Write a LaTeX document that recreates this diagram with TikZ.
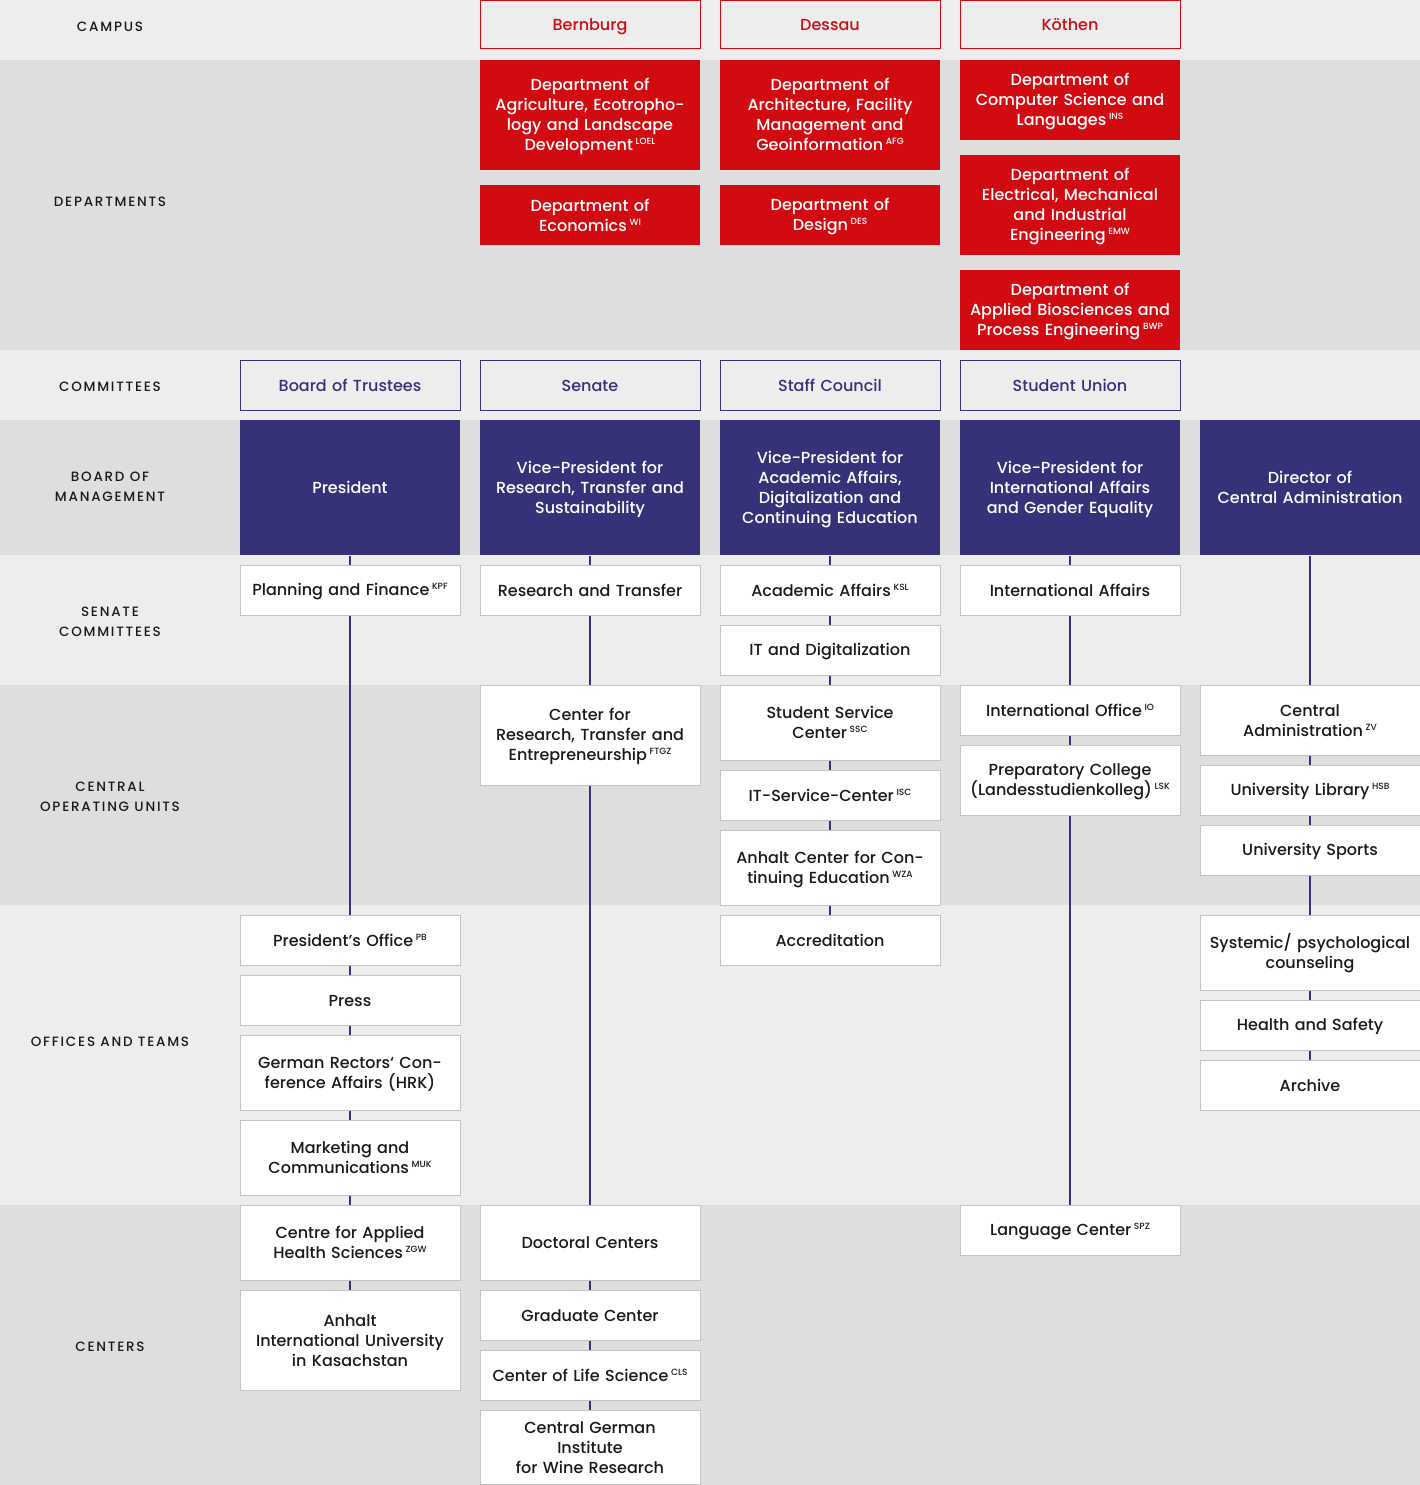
\documentclass[tikz,border=0pt]{standalone}
\usepackage{fontspec}
\setmainfont{Poppins}[UprightFont=* Medium]
\newfontfamily\lblfont{Poppins}[UprightFont=* Medium, LetterSpace=13]
\definecolor{bandL}{HTML}{EDEDED}
\definecolor{bandD}{HTML}{DEDEDE}
\definecolor{uniRed}{HTML}{D20B12}
\definecolor{navy}{HTML}{36327A}
\definecolor{boxLine}{HTML}{C4C4C4}
\definecolor{ink}{HTML}{1A1A1A}
\newcommand{\abbr}[1]{\,\raisebox{6pt}{\fontsize{9}{9}\selectfont #1}}
\newcommand{\topstrut}{\rule[-3pt]{0pt}{19pt}}
\newcommand{\botstrut}{\rule[-4pt]{0pt}{8pt}}
\tikzset{
  base/.style={font=\fontsize{16}{20}\selectfont, minimum width=220pt, text width=212pt, align=center, inner sep=0pt, line width=1pt,
    execute at begin node=\topstrut, execute at end node=\botstrut},
  wbox/.style={base, draw=boxLine, fill=white, text=ink},
  redbox/.style={base, fill=uniRed, text=white},
  campbox/.style={base, draw=uniRed, fill=bandL, text=uniRed},
  combox/.style={base, draw=navy, fill=bandL, text=navy},
  bombox/.style={base, fill=navy, text=white},
  lbl/.style={font=\lblfont\fontsize{13.5}{20}\selectfont, align=center, text=ink},
  conn/.style={draw=navy, line width=1.5pt}
}
\begin{document}
\begin{tikzpicture}[x=1pt,y=-1pt]
\useasboundingbox (0,0) rectangle (1420,1485);
% bands
\fill[bandL] (0,0) rectangle (1420,60);
\fill[bandD] (0,60) rectangle (1420,350);
\fill[bandL] (0,350) rectangle (1420,420);
\fill[bandD] (0,420) rectangle (1420,555);
\fill[bandL] (0,555) rectangle (1420,685);
\fill[bandD] (0,685) rectangle (1420,905);
\fill[bandL] (0,905) rectangle (1420,1205);
\fill[bandD] (0,1205) rectangle (1420,1485);
% band labels
\node[lbl] (l1) at (110,27) {CAMPUS};
\node[lbl] (l2) at (110,202) {DEPARTMENTS};
\node[lbl] (l3) at (110,387) {COMMITTEES};
\node[lbl] (l4) at (110,487) {BOARD OF\\MANAGEMENT};
\node[lbl] (l5) at (110,622) {SENATE\\COMMITTEES};
\node[lbl] (l6) at (110,797) {CENTRAL\\OPERATING UNITS};
\node[lbl] (l7) at (110,1042) {OFFICES AND TEAMS};
\node[lbl] (l8) at (110,1347) {CENTERS};
% campus
\node[campbox, minimum height=48pt] (bern) at (590,25) {Bernburg};
\node[campbox, minimum height=48pt] (dess) at (830,25) {Dessau};
\node[campbox, minimum height=48pt] (koth) at (1070,25) {Köthen};
% departments
\node[redbox, minimum height=110pt] (loel) at (590,115) {Department of\\Agriculture, Ecotropho-\\logy and Landscape\\Development\abbr{LOEL}};
\node[redbox, minimum height=60pt] (wi) at (590,215) {Department of\\Economics\abbr{WI}};
\node[redbox, minimum height=110pt] (afg) at (830,115) {Department of\\Architecture, Facility\\Management and\\Geoinformation\abbr{AFG}};
\node[redbox, minimum height=60pt] (des) at (830,215) {Department of\\Design\abbr{DES}};
\node[redbox, minimum height=80pt] (ins) at (1070,100) {Department of\\Computer Science and\\Languages\abbr{INS}};
\node[redbox, minimum height=100pt] (emw) at (1070,205) {Department of\\Electrical, Mechanical\\and Industrial\\Engineering\abbr{EMW}};
\node[redbox, minimum height=80pt] (bwp) at (1070,310) {Department of\\Applied Biosciences and\\Process Engineering\abbr{BWP}};
% committees
\node[combox, minimum height=50pt] (bot) at (350,385) {Board of Trustees};
\node[combox, minimum height=50pt] (sen) at (590,385) {Senate};
\node[combox, minimum height=50pt] (staff) at (830,385) {Staff Council};
\node[combox, minimum height=50pt] (stu) at (1070,385) {Student Union};
% board of management
\node[bombox, minimum height=135pt] (pres) at (350,487.5) {President};
\node[bombox, minimum height=135pt] (vpr) at (590,487.5) {Vice-President for\\Research, Transfer and\\Sustainability};
\node[bombox, minimum height=135pt] (vpa) at (830,487.5) {Vice-President for\\Academic Affairs,\\Digitalization and\\Continuing Education};
\node[bombox, minimum height=135pt] (vpi) at (1070,487.5) {Vice-President for\\International Affairs\\and Gender Equality};
\node[bombox, minimum height=135pt] (dir) at (1310,487.5) {Director of\\Central Administration};
% senate committees
\node[wbox, minimum height=50pt] (kpf) at (350,590) {Planning and Finance\abbr{KPF}};
\node[wbox, minimum height=50pt] (rt) at (590,590) {Research and Transfer};
\node[wbox, minimum height=50pt] (ksl) at (830,590) {Academic Affairs\abbr{KSL}};
\node[wbox, minimum height=50pt] (itd) at (830,650) {IT and Digitalization};
\node[wbox, minimum height=50pt] (ia) at (1070,590) {International Affairs};
% central operating units
\node[wbox, minimum height=100pt] (ftgz) at (590,735) {Center for\\Research, Transfer and\\Entrepreneurship\abbr{FTGZ}};
\node[wbox, minimum height=75pt] (ssc) at (830,722.5) {Student Service\\Center\abbr{SSC}};
\node[wbox, minimum height=50pt] (isc) at (830,795) {IT-Service-Center\abbr{ISC}};
\node[wbox, minimum height=75pt] (wza) at (830,867.5) {Anhalt Center for Con-\\tinuing Education\abbr{WZA}};
\node[wbox, minimum height=50pt] (io) at (1070,710) {International Office\abbr{IO}};
\node[wbox, minimum height=70pt] (lsk) at (1070,780) {Preparatory College\\(Landesstudienkolleg)\abbr{LSK}};
\node[wbox, minimum height=70pt] (zv) at (1310,720) {Central\\Administration\abbr{ZV}};
\node[wbox, minimum height=50pt] (hsb) at (1310,790) {University Library\abbr{HSB}};
\node[wbox, minimum height=50pt] (sport) at (1310,850) {University Sports};
% offices and teams
\node[wbox, minimum height=50pt] (pb) at (350,940) {President's Office\abbr{PB}};
\node[wbox, minimum height=50pt] (press) at (350,1000) {Press};
\node[wbox, minimum height=75pt] (hrk) at (350,1072.5) {German Rectors‘ Con-\\ference Affairs (HRK)};
\node[wbox, minimum height=75pt] (muk) at (350,1157.5) {Marketing and\\Communications\abbr{MUK}};
\node[wbox, minimum height=50pt] (accr) at (830,940) {Accreditation};
\node[wbox, minimum height=75pt] (sys) at (1310,952.5) {Systemic/ psychological\\counseling};
\node[wbox, minimum height=50pt] (hs) at (1310,1025) {Health and Safety};
\node[wbox, minimum height=50pt] (arch) at (1310,1085) {Archive};
% centers
\node[wbox, minimum height=75pt] (zgw) at (350,1242.5) {Centre for Applied\\Health Sciences\abbr{ZGW}};
\node[wbox, minimum height=100pt] (aiu) at (350,1340) {Anhalt\\International University\\in Kasachstan};
\node[wbox, minimum height=75pt] (doc) at (590,1242.5) {Doctoral Centers};
\node[wbox, minimum height=50pt] (grad) at (590,1315) {Graduate Center};
\node[wbox, minimum height=50pt] (cls) at (590,1375) {Center of Life Science\abbr{CLS}};
\node[wbox, minimum height=74pt] (wine) at (590,1447.5) {Central German\\Institute\\for Wine Research};
\node[wbox, minimum height=50pt] (spz) at (1070,1230) {Language Center\abbr{SPZ}};
% connectors
\foreach \a/\b in {pres/kpf,kpf/pb,pb/press,press/hrk,hrk/muk,muk/zgw,zgw/aiu,
  vpr/rt,rt/ftgz,ftgz/doc,doc/grad,grad/cls,cls/wine,
  vpa/ksl,ksl/itd,itd/ssc,ssc/isc,isc/wza,wza/accr,
  vpi/ia,ia/io,io/lsk,lsk/spz,
  dir/zv,zv/hsb,hsb/sport,sport/sys,sys/hs,hs/arch}
  \draw[conn] (\a.south) -- (\b.north);
\end{tikzpicture}
\end{document}
